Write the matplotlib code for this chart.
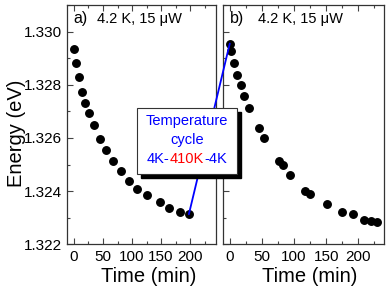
import matplotlib
matplotlib.use("Agg")
import matplotlib.pyplot as plt
from matplotlib.patches import ConnectionPatch
from matplotlib.ticker import MultipleLocator

plt.rcParams['font.family'] = ['Liberation Sans', 'DejaVu Sans']

# Panel a data
t_a = [0, 3.4, 8.1, 14.3, 19.5, 25.3, 34, 44.8, 55.2, 67.8, 80.5, 95.3, 108.1,
       125.3, 148.3, 164.3, 183.3, 197.8]
e_a = [1.32933, 1.32883, 1.32828, 1.32774, 1.32733, 1.32694, 1.32650, 1.32596,
       1.32554, 1.32513, 1.32475, 1.32438, 1.32408, 1.32386, 1.32358, 1.32338,
       1.32323, 1.32313]
# Panel b data
t_b = [0, 1.6, 6.3, 12, 16.7, 22.3, 30.2, 45.3, 53.1, 76.6, 83.3, 94.2, 117.7,
       125.5, 152, 175, 191.7, 209.4, 219.8, 228.6]
e_b = [1.32955, 1.32927, 1.32882, 1.32838, 1.32800, 1.32756, 1.32714, 1.32638,
       1.32599, 1.32512, 1.32498, 1.32460, 1.32401, 1.32391, 1.32352, 1.32323,
       1.32314, 1.32292, 1.32287, 1.32282]

xticks = [0, 50, 100, 150, 200]
yticks = [1.322, 1.324, 1.326, 1.328, 1.330]
ytick_labels = ['1.322', '1.324', '1.326', '1.328', '1.330']
panel_labels = ['a)', 'b)']
cond_text = '4.2 K, 15 \u03bcW'

fig = plt.figure(figsize=(3.92, 2.89), dpi=100)
ax_a = fig.add_axes([67/392, 1-244.3/289, (215.7-67)/392, (244.3-5)/289])
ax_b = fig.add_axes([222.7/392, 1-244.3/289, (384-222.7)/392, (244.3-5)/289])

for ax, t, e, lab in [(ax_a, t_a, e_a, panel_labels[0]), (ax_b, t_b, e_b, panel_labels[1])]:
    ax.plot(t, e, 'o', color='black', markersize=5.4, linestyle='none')
    ax.set_ylim(1.322, 1.331)
    ax.set_xticks(xticks)
    ax.set_xticklabels([str(v) for v in xticks])
    ax.xaxis.set_minor_locator(MultipleLocator(25))
    ax.set_yticks(yticks)
    ax.yaxis.set_minor_locator(MultipleLocator(0.001))
    ax.tick_params(axis='both', which='both', direction='in', labelsize=11,
                   top=True, right=False, color='#444444')
    ax.tick_params(which='major', length=4, width=0.8)
    ax.tick_params(which='minor', length=2.5, width=0.8)
    ax.tick_params(axis='x', pad=4)
    for sp in ax.spines.values():
        sp.set_linewidth(0.9)
        sp.set_color('#333333')
    ax.set_xlabel('Time (min)', fontsize=14.5, labelpad=0)
    ax.text(0.045, 0.975, lab, transform=ax.transAxes, fontsize=11.5,
            va='top', ha='left')
    ax.text(0.2 if ax is ax_a else 0.22, 0.97, cond_text, transform=ax.transAxes,
            fontsize=10.5, va='top', ha='left')

ax_a.set_xlim(-12, 244)
ax_b.set_xlim(-11, 240)
ax_a.set_yticklabels(ytick_labels)
ax_b.set_yticklabels([])
ax_a.set_ylabel('Energy (eV)', fontsize=14.5)
ax_a.yaxis.set_label_coords(-0.275, 0.465)
ax_a.xaxis.set_label_coords(0.55, -0.093)
ax_b.xaxis.set_label_coords(0.54, -0.093)

# connecting line from last point of a to first point of b
con = ConnectionPatch(xyA=(t_a[-1], e_a[-1]), coordsA=ax_a.transData,
                      xyB=(t_b[0], e_b[0]), coordsB=ax_b.transData,
                      color='#0000ff', linewidth=1.3, zorder=5)
fig.add_artist(con)

# Text box with shadow
bx0, by0, bx1, by1 = 137/392, 1-174/289, 236.5/392, 1-108.5/289
shadow = plt.Rectangle((bx0 + 4/392, by0 - 3.5/289), bx1 - bx0, by1 - by0,
                       transform=fig.transFigure, facecolor='black',
                       edgecolor='black', zorder=9)
box = plt.Rectangle((bx0, by0), bx1 - bx0, by1 - by0, transform=fig.transFigure,
                    facecolor='white', edgecolor='#333333', linewidth=0.8, zorder=10)
fig.add_artist(shadow)
fig.add_artist(box)
cx = (bx0 + bx1) / 2
fig.text(cx, 1-121/289, 'Temperature', color='#0000ff', fontsize=10.5,
         ha='center', va='center', zorder=11)
fig.text(cx, 1-140/289, 'cycle', color='#0000ff', fontsize=10.5,
         ha='center', va='center', zorder=11)
# third line: 4K-410K-4K with red middle
parts = [('4K-', '#0000ff'), ('410K', '#ff0000'), ('-4K', '#0000ff')]
renderer = fig.canvas.get_renderer()
texts = []
for s, c in parts:
    tt = fig.text(0, 1-159/289, s, color=c, fontsize=10.5, ha='left',
                  va='center', zorder=11)
    texts.append(tt)
widths = [tt.get_window_extent(renderer).width / fig.bbox.width for tt in texts]
x = cx - sum(widths) / 2
for tt, w in zip(texts, widths):
    tt.set_x(x)
    x += w

fig.savefig('out.png', dpi=100)
